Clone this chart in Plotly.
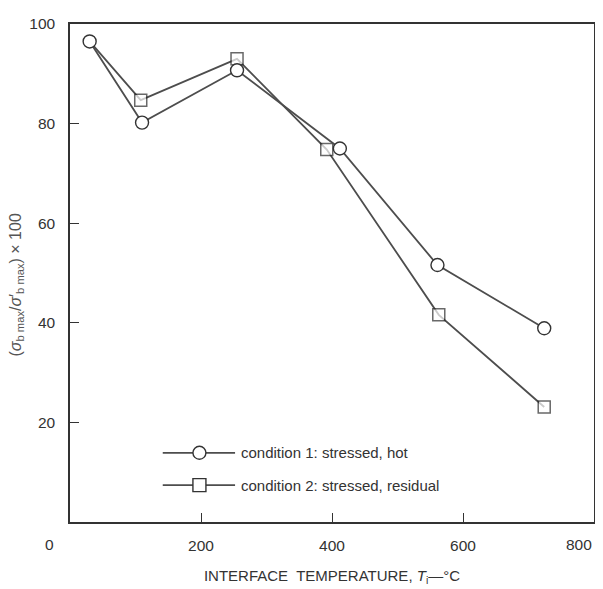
import plotly.graph_objects as go

# condition 1: stressed, hot
temp_hot = [30, 110, 255, 412, 561, 724]
ratio_hot = [96.5, 80.2, 90.7, 75.0, 51.6, 38.9]

# condition 2: stressed, residual
temp_res = [30, 108, 255, 392, 563, 724]
ratio_res = [96.5, 84.7, 93.0, 74.8, 41.6, 23.1]

x_ticks = [200, 400, 600, 800]
x_tick_text = ["200", "400", "600", ""]   # 800 is written a little to the left
y_ticks = [20, 40, 60, 80, 100]

INK = "#333333"
LINE = "#4d4d4d"
FONT = "Liberation Sans, Arial, sans-serif"

fig = go.Figure()

# residual first so the shared first point shows the circle on top
fig.add_trace(go.Scatter(
    x=temp_res, y=ratio_res,
    mode="lines+markers",
    line=dict(color=LINE, width=1.8),
    marker=dict(symbol="square", size=[0] + [12] * (len(temp_res) - 1),
                color="white", line=dict(color="#2a2a2a", width=1.5)),
    name="condition 2: stressed, residual",
    showlegend=False,
))
fig.add_trace(go.Scatter(
    x=temp_hot, y=ratio_hot,
    mode="lines+markers",
    line=dict(color=LINE, width=1.8),
    marker=dict(symbol="circle", size=13, color="white",
                line=dict(color=INK, width=1.4)),
    name="condition 1: stressed, hot",
    showlegend=False,
))

# hand drawn legend, like the printed figure
legend_rows = [
    ("circle", "condition 1: stressed, hot", 0.139),
    ("rect", "condition 2: stressed, residual", 0.074),
]
for shape_type, label, yy in legend_rows:
    fig.add_shape(type="line", xref="paper", yref="paper",
                  x0=0.177, x1=0.315, y0=yy, y1=yy,
                  line=dict(color=LINE, width=1.8))
    fig.add_shape(type=shape_type, xref="paper", yref="paper",
                  xsizemode="pixel", ysizemode="pixel",
                  xanchor=0.247, yanchor=yy,
                  x0=-6.5, x1=6.5, y0=-6.5, y1=6.5,
                  fillcolor="white", line=dict(color=INK, width=1.4))
    fig.add_annotation(text=label, xref="paper", yref="paper",
                       x=0.323, y=yy, xanchor="left", yanchor="middle",
                       showarrow=False, font=dict(size=15, color=INK, family=FONT))

# shared origin label and the last x label
fig.add_annotation(text="0", xref="paper", yref="paper", x=-0.04, y=-0.045,
                   xanchor="center", yanchor="middle", showarrow=False,
                   font=dict(size=15.5, color=INK, family=FONT))
fig.add_annotation(text="800", xref="paper", yref="paper", x=0.972, y=-0.045,
                   xanchor="center", yanchor="middle", showarrow=False,
                   font=dict(size=15.5, color=INK, family=FONT))

# y axis title (sits a little below the plot centre in the original)
fig.add_annotation(
    text="(<i>σ</i><sub>b max</sub>/<i>σ</i>′<sub>b max</sub>) × 100",
    xref="paper", yref="paper", x=-0.103, y=0.475, textangle=-90,
    xanchor="center", yanchor="middle", showarrow=False,
    font=dict(size=16, color="#555555", family=FONT))

fig.update_xaxes(
    range=[0, 800], tickvals=x_ticks, ticktext=x_tick_text,
    ticks="inside", ticklen=9, tickcolor=INK, tickwidth=1,
    showline=True, linecolor=INK, linewidth=1.5, mirror=True,
    showgrid=False, zeroline=False,
    tickfont=dict(size=15.5, color=INK, family=FONT),
    ticklabelstandoff=9,
    title=dict(text="INTERFACE  TEMPERATURE, <i>T</i><sub>i</sub>—°C",
               font=dict(size=15, color=INK, family=FONT), standoff=17),
)
fig.update_yaxes(
    range=[0, 100], tickvals=y_ticks,
    ticks="inside", ticklen=9, tickcolor=INK, tickwidth=1,
    showline=True, linecolor=INK, linewidth=1.5, mirror=True,
    showgrid=False, zeroline=False,
    tickfont=dict(size=15.5, color=INK, family=FONT),
    ticklabelstandoff=10, ticklabeloverflow="allow",
)

# the page body adds an 8 px offset, so the figure is made 8 px smaller
fig.update_layout(
    width=595, height=581,
    margin=dict(l=62, r=7, t=8, b=63),
    plot_bgcolor="white", paper_bgcolor="white",
    font=dict(family=FONT, color=INK),
)

fig.write_html("out.html")
